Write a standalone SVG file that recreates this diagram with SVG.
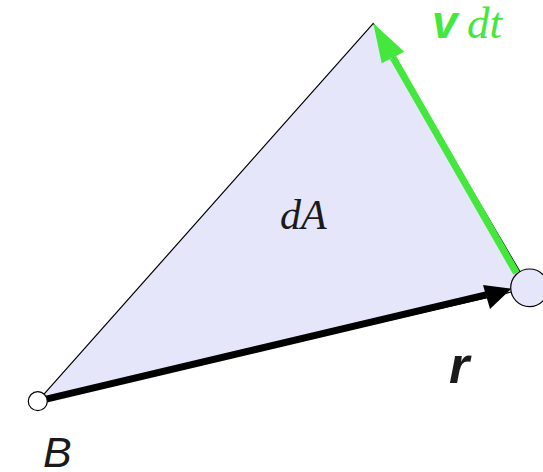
<svg xmlns="http://www.w3.org/2000/svg" width="543" height="472" viewBox="0 0 543 472">
<style>
.sans{font-family:"Liberation Sans",Arial,sans-serif;font-style:italic}
.serif{font-family:"Liberation Serif","Times New Roman",serif;font-style:italic}
.green{fill:#44e83c}
.pt{stroke:#000;stroke-width:1.2}
</style>
<rect width="543" height="472" fill="#fff"/>
<g id="area">
<polygon points="37.8,401.2 373.3,23.3 529.5,287.8" fill="#e6e6fa" stroke="#000" stroke-width="1.2" stroke-linejoin="round"/>
<text class="serif" x="280" y="229" font-size="42" fill="#1a1a1a">dA</text>
</g>
<g id="connectors">
<line x1="37.8" y1="401.2" x2="488" y2="294.3" stroke="#000" stroke-width="7"/>
<polygon points="511.5,288.6 483,285 490,309" fill="#000"/>
<line x1="516.5" y1="273" x2="393" y2="57.5" stroke="#44e83c" stroke-width="7"/>
<polygon points="373.3,23.3 381.7,63.3 404.3,51.7" fill="#44e83c"/>
</g>
<g id="B">
<circle cx="37.8" cy="401.2" r="9.5" fill="#fff" class="pt"/>
<text class="sans" x="43" y="467" font-size="43" fill="#1a1a1a">B</text>
</g>
<g id="P">
<circle cx="529.5" cy="287.8" r="18.8" fill="#e6e6fa" class="pt"/>
<text class="sans" x="449" y="383" font-size="52" font-weight="bold" fill="#1a1a1a">r</text>
</g>
<g id="vdt">
<text x="432" y="38" class="green"><tspan class="sans" font-weight="bold" font-size="46">v</tspan><tspan class="serif" x="467" font-size="45">dt</tspan></text>
</g>
</svg>
